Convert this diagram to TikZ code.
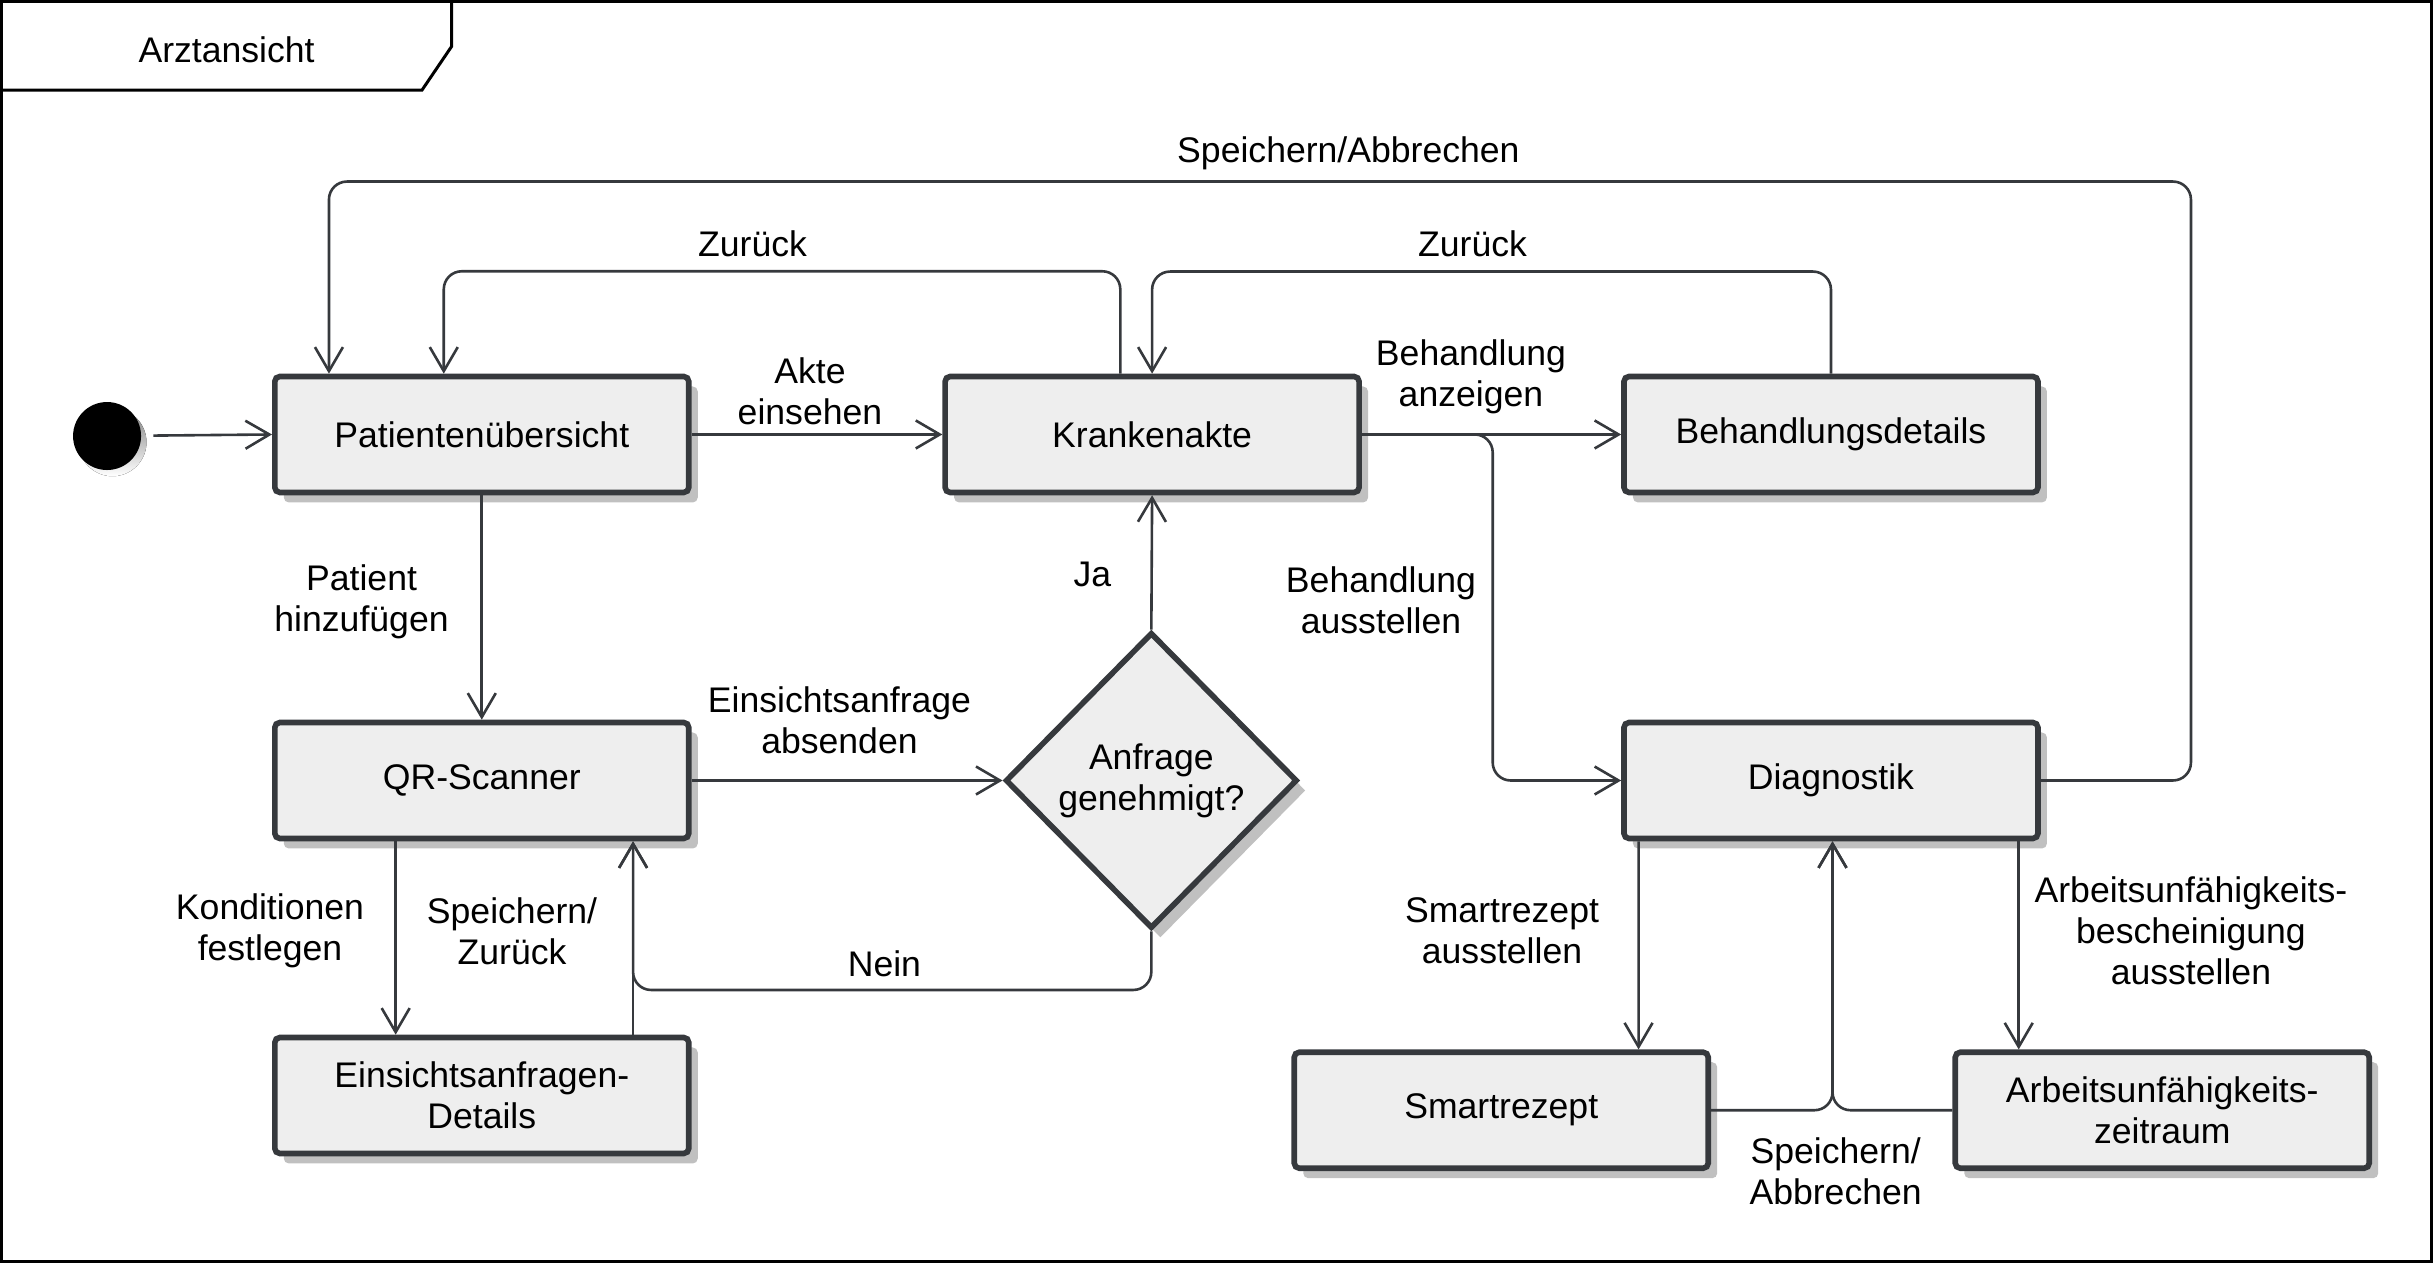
\documentclass[tikz,border=0pt]{standalone}
\usepackage{fontspec}
\setmainfont{Liberation Sans}
\usetikzlibrary{arrows.meta,shapes.geometric,shadows}
\definecolor{stroke}{HTML}{36393D}
\definecolor{boxfill}{HTML}{EEEEEE}
\definecolor{shade}{HTML}{C0C0C0}
\begin{document}
\begin{tikzpicture}[x=0.7759pt,y=-0.7759pt,
  txt/.style={font=\fontsize{17.8pt}{20.4pt}\selectfont, align=center, text=black, inner sep=0pt},
  state/.style={txt, draw=stroke, line width=2.8pt, fill=boxfill, rounded corners=2.5pt,
     minimum width=207pt, minimum height=58pt,
     general shadow={fill=shade, shadow xshift=4.5pt, shadow yshift=-5pt}},
  decision/.style={txt, shape=diamond, draw=stroke, line width=2.8pt, fill=boxfill,
     minimum width=146pt, minimum height=148pt,
     general shadow={fill=shade, shadow xshift=4.5pt, shadow yshift=-5pt}},
  conn/.style={draw=stroke, line width=1.3pt, rounded corners=9pt,
     -{Straight Barb[length=12pt,width=14pt]}},
  lbl/.style={txt}
]
\useasboundingbox (0,0) rectangle (1568,814);
% frame and tab
\draw[line width=1.5pt] (1,1) rectangle (1567,813);
\draw[line width=1.5pt] (1,58) -- (272,58) -- (291,30) -- (291,1);
\node[txt] (title) at (146,32) {Arztansicht};

% initial state
\fill[shade] (72.5,285) circle (17pt);
\node[circle, fill=black, minimum size=34pt, inner sep=0pt] (init) at (69,281) {};

% states
\node[state] (PU) at (310.5,280) {Patientenübersicht};
\node[state] (KA) at (742.5,280) {Krankenakte};
\node[state] (BD) at (1180,280) {Behandlungsdetails};
\node[state] (QR) at (310.5,503) {QR-Scanner};
\node[state] (ED) at (310.5,706) {Einsichtsanfragen-\\Details};
\node[decision] (AG) at (742,503) {Anfrage\\genehmigt?};
\node[state] (DG) at (1180,503) {Diagnostik};
\node[state] (SR) at (967.5,715.5) {Smartrezept};
\node[state] (AZ) at (1393.5,715.5) {Arbeitsunfähigkeits-\\zeitraum};

% connectors
\draw[conn, shorten <=6pt] (init) -- (PU.west);
\draw[conn] (PU.east) -- (KA.west);
\draw[conn] ([shift={(-20.5,0)}]KA.north) -- ++(0,-66) -| ([shift={(-24.5,0)}]PU.north);
\draw[conn] (DG.east) -- (1412,503) -- (1412,117) -| ([shift={(-98.5,0)}]PU.north);
\draw[conn] (BD.north) -- (1180,175) -| (KA.north);
\draw[conn] (KA.east) -- (BD.west);
\draw[conn] (KA.east) -- (962,280) -- (962,503) -- (DG.west);
\draw[conn] (PU.south) -- (QR.north);
\draw[conn] (QR.east) -- (AG.west);
\draw[conn] (AG.north) -- (KA.south);
\draw[conn] (AG.south) -- (742,638) -| ([shift={(97.5,0)}]QR.south);
\draw[conn] ([shift={(-55.5,0)}]QR.south) -- ([shift={(-55.5,0)}]ED.north);
\draw[conn] ([shift={(97.5,0)}]ED.north) -- ([shift={(97.5,0)}]QR.south);
\draw[conn] ([shift={(-124,0)}]DG.south) -- ([shift={(88.5,0)}]SR.north);
\draw[conn] ([shift={(121,0)}]DG.south) -- ([shift={(-92.5,0)}]AZ.north);
\draw[conn] (SR.east) -| ([shift={(1,0)}]DG.south);
\draw[conn] (AZ.west) -| ([shift={(1,0)}]DG.south);

% labels
\node[lbl] (l1) at (522,252) {Akte\\einsehen};
\node[lbl] (l2) at (485,157) {Zurück};
\node[lbl] (l3) at (869,99) {Speichern/Abbrechen};
\node[lbl] (l4) at (949,157) {Zurück};
\node[lbl] (l5) at (948,243) {Behandlung\\anzeigen};
\node[lbl] (l6) at (890,387) {Behandlung\\ausstellen};
\node[lbl] (l7) at (233,388) {Patient\\hinzufügen};
\node[lbl] (l8) at (541,464) {Einsichtsanfrage\\absenden};
\node[lbl] (l9) at (704,370) {Ja};
\node[lbl] (l10) at (570,621) {Nein};
\node[lbl] (l11) at (174,600) {Konditionen\\festlegen};
\node[lbl] (l12) at (330,600) {Speichern/\\Zurück};
\node[lbl] (l13) at (968,600) {Smartrezept\\ausstellen};
\node[lbl] (l14) at (1412,600) {Arbeitsunfähigkeits-\\bescheinigung\\ausstellen};
\node[lbl] (l15) at (1183,755) {Speichern/\\Abbrechen};
\end{tikzpicture}
\end{document}
